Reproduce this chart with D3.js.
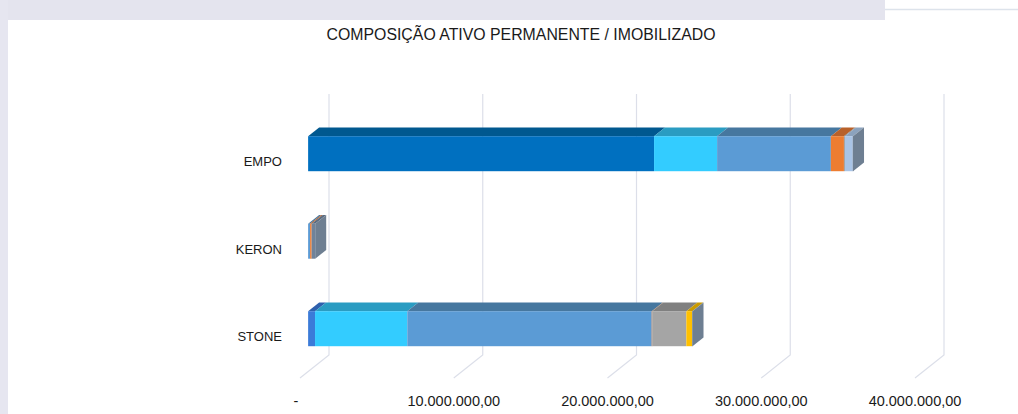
<!DOCTYPE html>
<html>
<head>
<meta charset="utf-8">
<script src="https://cdn.jsdelivr.net/npm/d3@7"></script>
<style>
  body { margin: 0; background: #fff; }
  svg { display: block; font-family: "Liberation Sans", Arial, sans-serif; }
</style>
</head>
<body>
<div id="chart"></div>
<script>
// data (values in R$)
const categories = ["EMPO", "KERON", "STONE"];
const seriesKeys = ["s1", "s2", "s3", "s4", "s5", "s6", "s7", "s8", "s9"];
const empoValues  = [22500000, 0, 4100000, 7400000, 850000, 70000, 0, 500000, 20000];
const keronValues = [0, 0, 0, 130000, 100000, 0, 0, 0, 230000];
const stoneValues = [0, 450000, 6000000, 15900000, 30000, 2220000, 380000, 0, 20000];
const xTicks = [0, 10000000, 20000000, 30000000, 40000000];

// colours: front face / top face for each series
const frontColors = ["#0070c0", "#3b7bd8", "#33ccff", "#5b9bd5", "#ed7d31", "#a5a5a5", "#ffc000", "#a9c4e6", "#70839a"];
const topColors   = ["#00588f", "#2e60ad", "#2a9cc2", "#46779f", "#b8612a", "#808080", "#c99a00", "#8ba2bd", "#5b6c80"];
const sideColor = "#6e7f92";

const width = 1018, height = 414;

const svg = d3.select("#chart").append("svg")
    .attr("width", width)
    .attr("height", height);

// page background bits around the chart panel
svg.append("rect").attr("x", 0).attr("y", 0).attr("width", width).attr("height", height).attr("fill", "#ffffff");
svg.append("rect").attr("x", 0).attr("y", 0).attr("width", 885).attr("height", 20).attr("fill", "#e4e4ee");
svg.append("rect").attr("x", 0).attr("y", 0).attr("width", 8).attr("height", height).attr("fill", "#e6e6f0");
svg.append("line").attr("x1", 885).attr("x2", width).attr("y1", 9.5).attr("y2", 9.5)
    .attr("stroke", "#dde3eb").attr("stroke-width", 1.5);

// title
svg.append("text")
    .attr("x", 521)
    .attr("y", 40)
    .attr("text-anchor", "middle")
    .attr("font-size", "16px")
    .attr("fill", "#1a1a1a")
    .attr("textLength", 389)
    .attr("lengthAdjust", "spacingAndGlyphs")
    .text("COMPOSIÇÃO ATIVO PERMANENTE / IMOBILIZADO");

// 3D geometry: front edge of floor -> back wall
const depth = { x: 29, y: -23 };
const barFront = 0.28, barBack = 0.66;
const floorFrontY = 378, wallTop = 94;

const x = d3.scaleLinear().domain([0, 40000000]).range([300, 915]);
const y = d3.scaleBand().domain(categories).range([110, 372.5])
    .paddingInner(0.6).paddingOuter(0.3);

// gridlines: back wall + floor diagonal
const grid = svg.append("g").attr("stroke", "#dcdfe9").attr("stroke-width", 1.2).attr("fill", "none");
grid.selectAll("path")
    .data(xTicks)
    .enter()
    .append("path")
    .attr("d", d => {
        const xb = x(d) + depth.x, yb = floorFrontY + depth.y;
        return `M${xb},${wallTop}L${xb},${yb}L${x(d)},${floorFrontY}`;
    });

// tick labels
const loc = d3.formatLocale({ decimal: ",", thousands: ".", grouping: [3], currency: ["", ""] });
const fmt = loc.format(",.2f");
svg.append("g").selectAll("text")
    .data(xTicks)
    .enter()
    .append("text")
    .attr("x", d => d === 0 ? x(d) - 4 : x(d))
    .attr("y", 406)
    .attr("text-anchor", "middle")
    .attr("font-size", "14.5px")
    .attr("fill", "#1a1a1a")
    .text(d => d === 0 ? "-" : fmt(d));

// stacked data
const table = categories.map((c, i) => {
    const row = { cat: c };
    const vals = [empoValues, keronValues, stoneValues][i];
    seriesKeys.forEach((k, j) => row[k] = vals[j]);
    return row;
});
const stacked = d3.stack().keys(seriesKeys)(table);

const bx = v => x(v) + barFront * depth.x;
const dX = (barBack - barFront) * depth.x;
const dY = (barBack - barFront) * depth.y;

categories.forEach((cat, ci) => {
    const g = svg.append("g");
    const yt = y(cat) + barFront * depth.y + 6.4;
    const yb = yt + y.bandwidth();
    const segs = stacked.map((layer, si) => ({ si, x0: layer[ci][0], x1: layer[ci][1] }))
        .filter(s => s.x1 > s.x0);

    // top faces
    g.selectAll(".top")
        .data(segs)
        .enter()
        .append("path")
        .attr("fill", s => topColors[s.si])
        .attr("d", s => {
            const a = bx(s.x0), b = bx(s.x1);
            return `M${a},${yt}L${b},${yt}L${b + dX},${yt + dY}L${a + dX},${yt + dY}Z`;
        });

    // front faces
    g.selectAll(".front")
        .data(segs)
        .enter()
        .append("rect")
        .attr("x", s => bx(s.x0))
        .attr("y", yt)
        .attr("width", s => Math.max(0.6, bx(s.x1) - bx(s.x0)))
        .attr("height", yb - yt)
        .attr("fill", s => frontColors[s.si]);

    // right end face
    const end = bx(d3.max(segs, s => s.x1));
    g.append("path")
        .attr("fill", sideColor)
        .attr("d", `M${end},${yt}L${end + dX},${yt + dY}L${end + dX},${yb + dY}L${end},${yb}Z`);

    // category label
    svg.append("text")
        .attr("x", 282)
        .attr("y", yt + y.bandwidth() / 2 + 8)
        .attr("dy", "0.35em")
        .attr("text-anchor", "end")
        .attr("font-size", "13px")
        .attr("fill", "#1a1a1a")
        .text(cat);
});
</script>
</body>
</html>
